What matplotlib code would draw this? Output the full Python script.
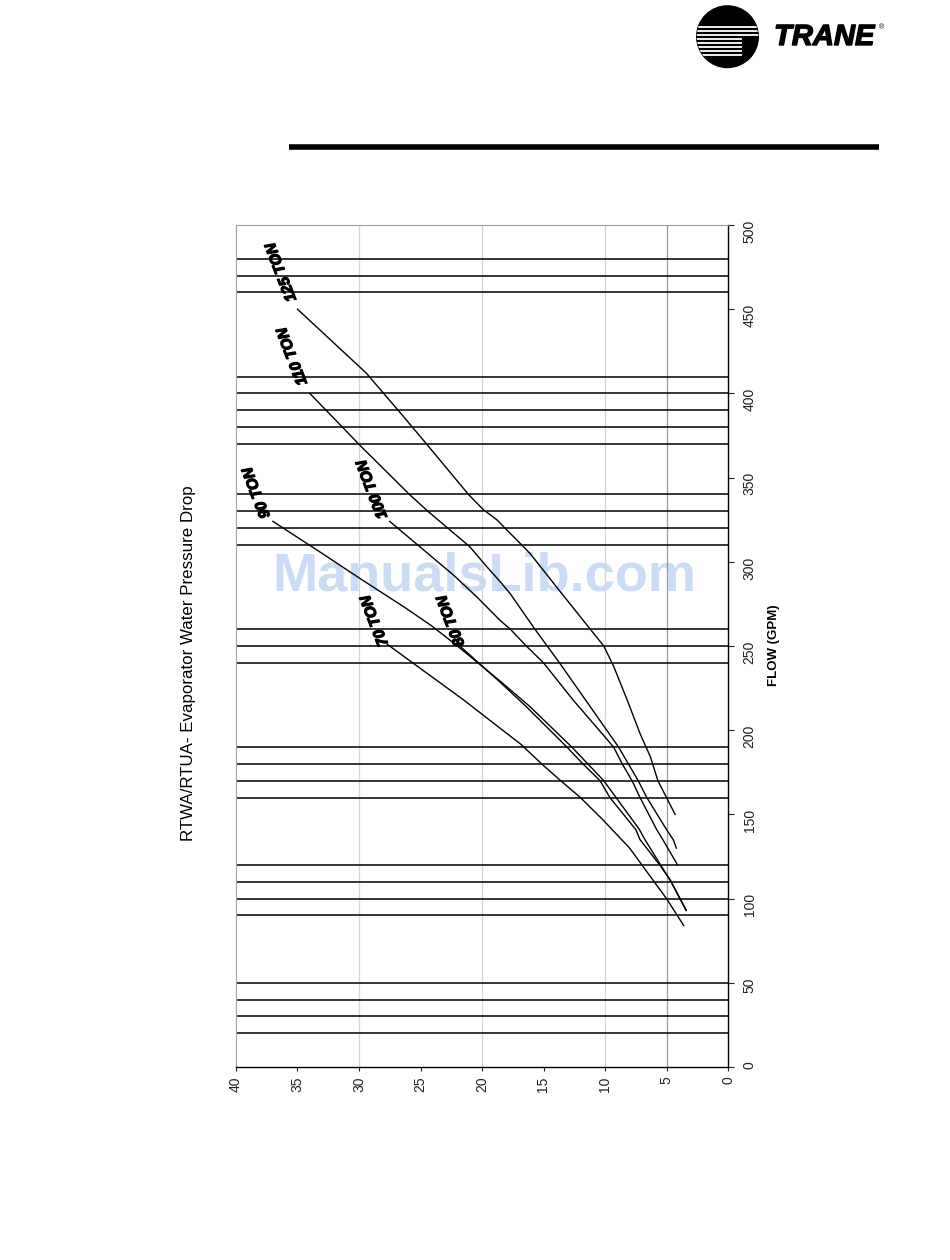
import matplotlib
matplotlib.use("Agg")
import matplotlib.pyplot as plt
import matplotlib.patheffects as pe
from matplotlib.patches import Circle

plt.rcParams['font.family'] = ['Liberation Sans', 'DejaVu Sans']

# flow (GPM) vs pressure drop (ft)
flow_70 = [251, 218, 201, 192, 179, 170, 160, 147, 130, 119, 100, 84]
dp_70 = [27.7, 21.5, 18.5, 16.9, 15.0, 13.6, 12.0, 10.2, 8.0, 6.9, 5.0, 3.6]

flow_80 = [250, 229, 214, 190, 180, 170, 160, 141, 135, 119, 111, 93]
dp_80 = [21.8, 18.6, 16.4, 13.1, 11.8, 10.4, 9.6, 7.5, 7.15, 5.45, 4.7, 3.4]

flow_90 = [324, 305, 290, 273, 262, 250, 229, 214, 190, 180, 170, 160, 141, 135, 119, 111, 93]
dp_90 = [37.0, 33.0, 29.9, 26.3, 24.1, 22.0, 18.5, 16.1, 12.7, 11.4, 10.1, 9.1, 7.2, 6.75, 5.4, 4.7, 3.4]

flow_100 = [324, 292, 279, 265, 260, 250, 240, 218, 190, 180, 170, 160, 141, 135, 120]
dp_100 = [27.5, 22.3, 20.4, 18.5, 17.7, 16.4, 15.0, 12.6, 9.3, 8.6, 7.8, 7.15, 5.8, 5.3, 4.1]

flow_110 = [400, 369, 340, 330, 309, 297, 288, 281, 260, 250, 240, 190, 180, 170, 160, 141, 135, 130]
dp_110 = [34.0, 29.9, 25.9, 24.4, 21.0, 19.6, 18.5, 17.7, 15.7, 14.7, 13.7, 8.9, 8.1, 7.3, 6.6, 5.0, 4.45, 4.2]

flow_125 = [450, 412, 400, 389, 369, 340, 331, 325, 305, 281, 260, 250, 238, 218, 198, 184, 170, 160, 150]
dp_125 = [35.0, 29.4, 28.0, 26.7, 24.4, 21.1, 19.9, 18.8, 16.1, 13.5, 11.2, 10.1, 9.3, 8.2, 7.15, 6.3, 5.7, 5.0, 4.3]

series = [
    ("70 TON", flow_70, dp_70, (28.7, 265)),
    ("80 TON", flow_80, dp_80, (22.5, 265)),
    ("90 TON", flow_90, dp_90, (38.3, 341)),
    ("100 TON", flow_100, dp_100, (28.9, 343)),
    ("110 TON", flow_110, dp_110, (35.4, 422)),
    ("125 TON", flow_125, dp_125, (36.3, 472)),
]

# black horizontal flow marker lines
marker_flows = [20, 30, 40, 50, 90, 100, 110, 120, 160, 170, 180, 190,
                240, 250, 260, 310, 320, 330, 340, 370, 380, 390, 400, 410,
                460, 470, 480]

dp_ticks = [0, 5, 10, 15, 20, 25, 30, 35, 40]
flow_ticks = [0, 50, 100, 150, 200, 250, 300, 350, 400, 450, 500]

fig = plt.figure(figsize=(9.5, 12.6), dpi=100)
ax = fig.add_axes([236 / 950, 1 - 1067 / 1260, 492 / 950, 842 / 1260])

ax.set_xlim(40, 0)
ax.set_ylim(0, 500)

# grid
for g in [30, 20, 10]:
    ax.axvline(g, color='#d6d6d6', lw=0.9, zorder=1)
ax.axvline(5, color='#9a9a9a', lw=0.9, zorder=1)

for f in marker_flows:
    ax.axhline(f, color='black', lw=1.1, zorder=2)

for name, fl, dp, pos in series:
    ax.plot(dp, fl, color='black', lw=1.0, zorder=3)
    ax.text(pos[0], pos[1], name, rotation=111, ha='center', va='center',
            fontsize=11, fontweight='bold', fontstyle='italic', zorder=4,
            path_effects=[pe.withStroke(linewidth=0.9, foreground='black')])

# watermark
ax.text(19.8, 291, "ManualsLib.com", ha='center', va='center', fontsize=39,
        fontweight='bold', color='#cbdcf4', zorder=0.5)

ax.set_xticks(dp_ticks)
ax.set_yticks(flow_ticks)
ax.yaxis.tick_right()
ax.tick_params(axis='x', labelrotation=90, length=3, width=0.8, pad=4,
               labelsize=10, colors='#222222')
ax.tick_params(axis='y', labelrotation=90, length=4, width=0.8, pad=6.5,
               labelsize=10, colors='#222222')
ax.tick_params(axis='y', which='both', left=False)

for s in ['left', 'top']:
    ax.spines[s].set_color('#a0a0a0')
    ax.spines[s].set_linewidth(0.8)
for s in ['right', 'bottom']:
    ax.spines[s].set_color('black')
    ax.spines[s].set_linewidth(1.0)

fig.text(188 / 950, 1 - 663 / 1260, "RTWA/RTUA- Evaporator Water Pressure Drop",
         rotation=90, ha='center', va='center', fontsize=12.2)
fig.text(774 / 950, 1 - 645 / 1260, "FLOW (GPM)", rotation=90, ha='center',
         va='center', fontsize=9.5, fontweight='bold')

# page header: logo and rule
hdr = fig.add_axes([0, 0, 1, 1], zorder=10)
hdr.set_xlim(0, 950)
hdr.set_ylim(1260, 0)
hdr.axis('off')
hdr.plot([289, 879], [147, 147], color='black', lw=4.0, solid_capstyle='butt')
logo = Circle((727.5, 36.7), 30.8, color='black')
hdr.add_patch(logo)
for k, yy in enumerate([27, 31, 35, 39, 43, 47, 51, 55]):
    x1 = 758 if k < 3 else 741
    ln, = hdr.plot([696, x1], [yy, yy], color='white', lw=1.3)
    ln.set_clip_path(logo)
hdr.text(774, 37, "TRANE", ha='left', va='center', fontsize=21,
         fontweight='bold', fontstyle='italic',
         path_effects=[pe.withStroke(linewidth=1.0, foreground='black')])
hdr.text(879, 28, "®", ha='left', va='center', fontsize=5)

fig.savefig("out.png", dpi=100)
